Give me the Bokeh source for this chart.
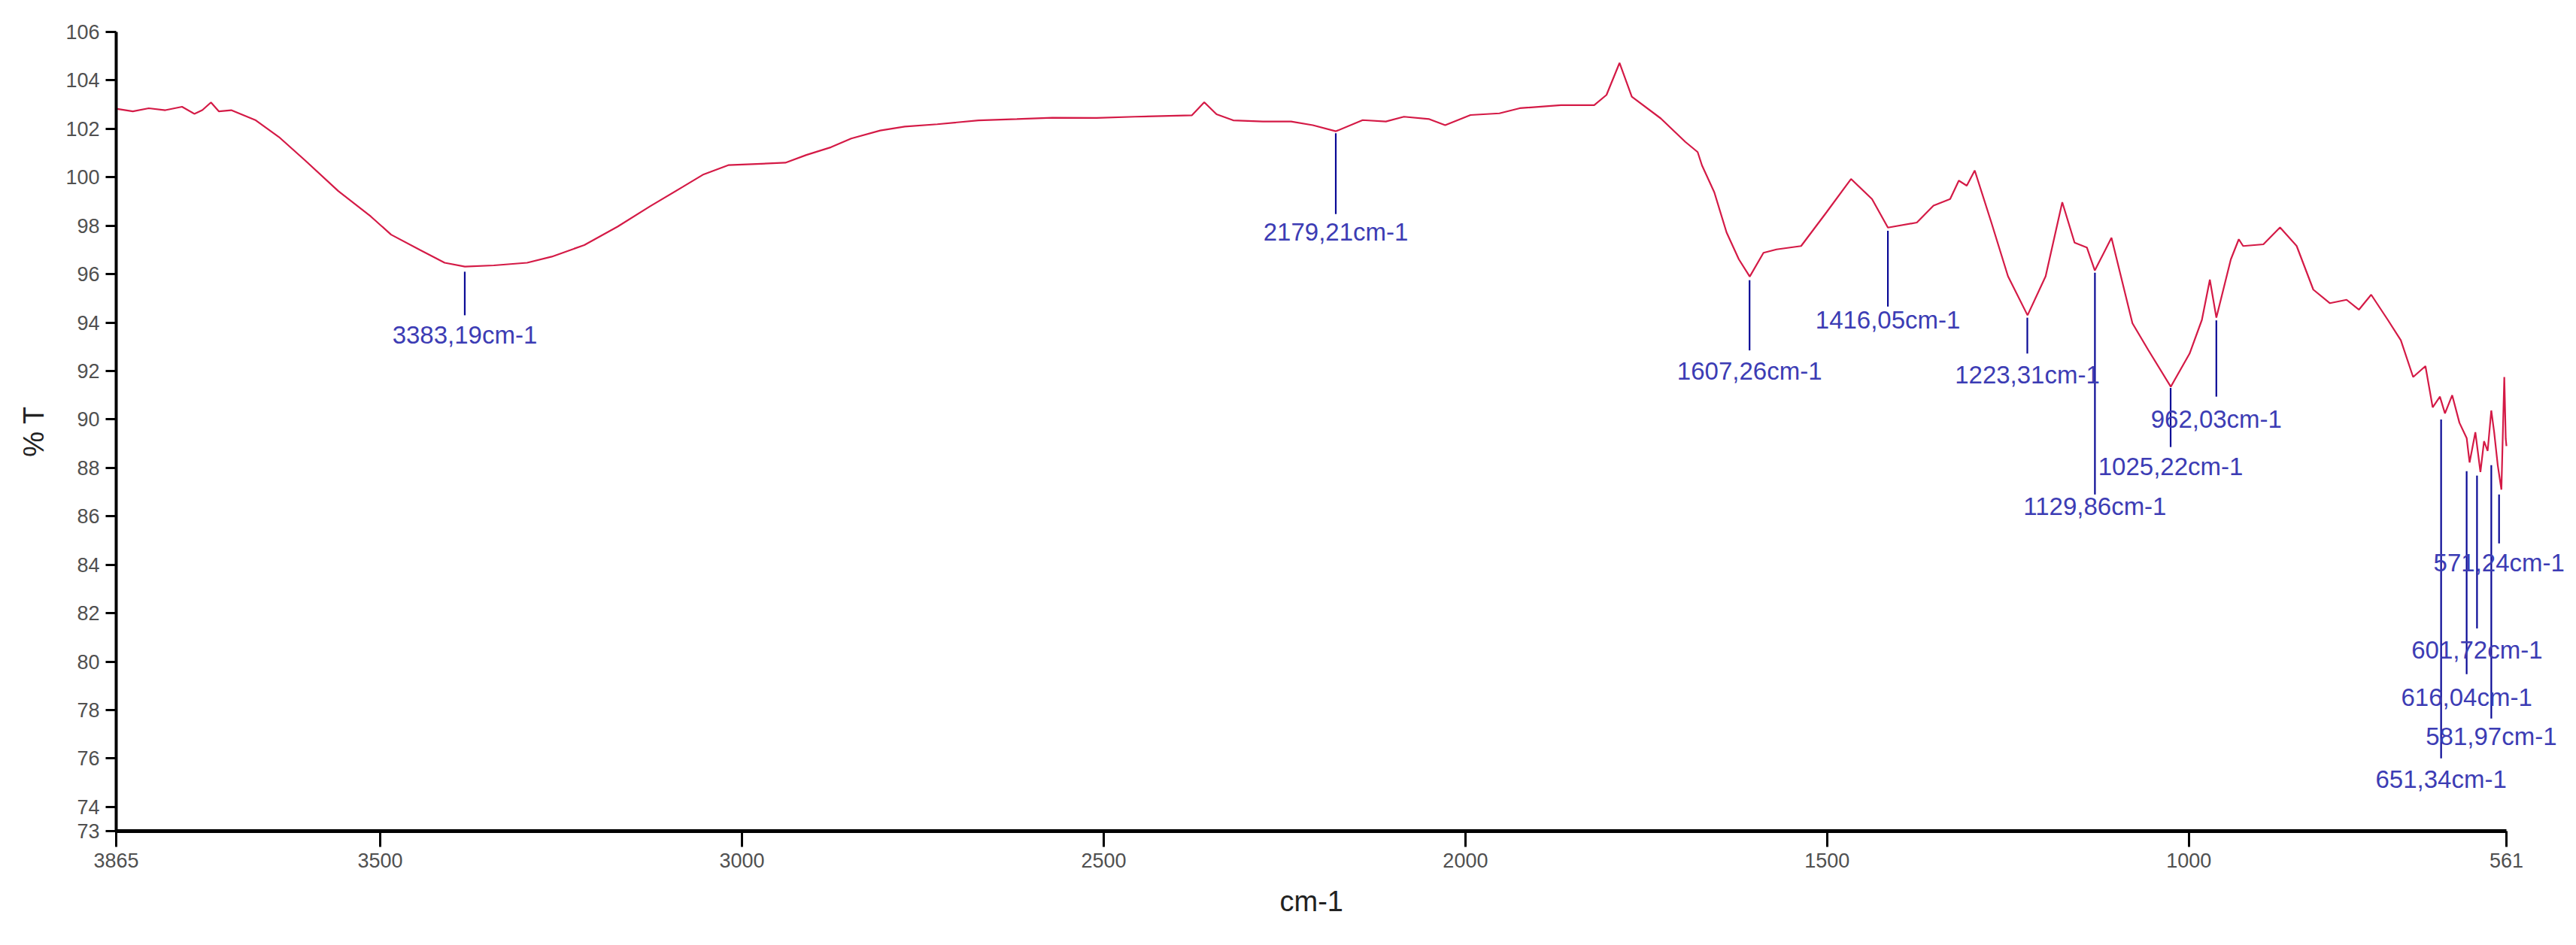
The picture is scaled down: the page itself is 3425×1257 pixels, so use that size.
from bokeh.plotting import figure
from bokeh.models import Range1d, FixedTicker, ColumnDataSource, Title
from bokeh.core.properties import value
from bokeh.embed import file_html
from bokeh.resources import INLINE

# Spectrum (wavenumber cm-1, %T)
wavenumber = [3865, 3842, 3820, 3797, 3774, 3757, 3746, 3734, 3723, 3706, 3689, 3672,
              3640, 3604, 3558, 3513, 3485, 3445, 3411, 3383, 3343, 3297, 3263, 3218,
              3172, 3127, 3082, 3053, 3019, 2980, 2940, 2911, 2877, 2849, 2809, 2775,
              2730, 2673, 2620, 2571, 2510, 2457, 2378, 2361, 2344, 2321, 2280, 2241,
              2211, 2179, 2142, 2110, 2085, 2050, 2028, 1993, 1953, 1925, 1868, 1822,
              1805, 1787, 1770, 1730, 1696, 1679, 1673, 1656, 1639, 1622, 1607, 1588,
              1570, 1536, 1501, 1467, 1438, 1416, 1376, 1353, 1330, 1318, 1307, 1296,
              1273, 1250, 1223, 1198, 1175, 1158, 1141, 1130, 1107, 1078, 1056, 1025,
              999, 982, 971, 962, 942, 931, 925, 897, 874, 851, 828, 805,
              782, 765, 748, 725, 707, 690, 673, 663, 653, 646, 636, 626,
              616, 612, 604, 597, 592, 587, 582, 578, 573, 568, 564, 562, 561]
transmittance = [102.83, 102.72, 102.85, 102.77, 102.91, 102.62, 102.77, 103.09, 102.72, 102.77, 102.56, 102.35,
                 101.66, 100.7, 99.43, 98.38, 97.63, 97.0, 96.47, 96.31, 96.36, 96.47, 96.72, 97.2,
                 97.96, 98.8, 99.6, 100.12, 100.5, 100.55, 100.6, 100.92, 101.24, 101.6, 101.93, 102.09,
                 102.19, 102.35, 102.4, 102.46, 102.45, 102.5, 102.56, 103.1, 102.6, 102.35, 102.3, 102.3,
                 102.15, 101.9, 102.36, 102.3, 102.5, 102.4, 102.15, 102.57, 102.64, 102.85, 102.98, 102.98,
                 103.4, 104.72, 103.33, 102.43, 101.46, 101.04, 100.49, 99.38, 97.72, 96.61, 95.9, 96.88,
                 97.02, 97.16, 98.55, 99.93, 99.1, 97.92, 98.13, 98.83, 99.1, 99.86, 99.65, 100.28,
                 98.13, 95.91, 94.3, 95.91, 98.97, 97.3, 97.1, 96.15, 97.5, 93.97, 92.86, 91.35,
                 92.72, 94.11, 95.77, 94.2, 96.61, 97.44, 97.16, 97.23, 97.93, 97.16, 95.36, 94.8,
                 94.94, 94.53, 95.15, 94.11, 93.27, 91.75, 92.2, 90.5, 90.94, 90.25, 91.0, 89.86,
                 89.23, 88.22, 89.47, 87.83, 89.1, 88.7, 90.37, 89.47, 88.1, 87.1, 91.75, 89.2, 88.9]

# Peak annotations
peak_wn = [3383.19, 2179.21, 1607.26, 1416.05, 1223.31, 1129.86, 1025.22, 962.03,
           651.34, 616.04, 601.72, 581.97, 571.24]
line_top = [96.1, 101.82, 95.75, 97.79, 94.2, 96.06, 91.3, 94.09, 90.0, 87.86, 87.68, 88.11, 86.9]
line_bottom = [94.3, 98.48, 92.85, 94.66, 92.72, 86.9, 88.86, 90.94, 76.0, 79.48, 81.37, 77.65, 84.88]
label_y = [93.5, 97.75, 92.0, 94.1, 91.85, 86.4, 88.05, 90.0, 75.13, 78.53, 80.48, 76.9, 84.07]
peak_labels = [("%.2f" % w).replace(".", ",") + "cm-1" for w in peak_wn]

x_ticks = [3865, 3500, 3000, 2500, 2000, 1500, 1000, 561]
y_ticks = [73] + list(range(74, 107, 2))
x_start, x_end = 3865, 561

# the frame runs a little past 561 so the right-hand labels are not clipped;
# the axis itself is bounded to 3865..561
p = figure(width=3409, height=1240, output_backend="svg", toolbar_location=None,
           x_range=Range1d(x_start, 481), y_range=Range1d(73, 106),
           min_border_left=154, min_border_right=0, min_border_top=42, min_border_bottom=135)
p.outline_line_color = None
p.xgrid.visible = False
p.ygrid.visible = False
p.background_fill_color = "white"
p.border_fill_color = "white"

p.line(wavenumber, transmittance, line_color="#d41a46", line_width=2.2)

ann = ColumnDataSource(dict(x=peak_wn, y0=line_top, y1=line_bottom, ly=label_y, t=peak_labels))
p.segment(x0="x", y0="y0", x1="x", y1="y1", source=ann, line_color="#0a0a96", line_width=2.2)
p.text(x="x", y="ly", text="t", source=ann, text_align="center", text_baseline="middle",
       text_font=value("Liberation Sans"), text_font_size="33px", text_color="#3c3cb4")

for ax in (p.xaxis[0], p.yaxis[0]):
    ax.major_label_text_font = "Liberation Sans"
    ax.major_label_text_font_size = "27px"
    ax.major_label_text_color = "#505050"
    ax.axis_line_color = "black"
    ax.major_tick_line_color = "black"
    ax.major_tick_line_width = 3
    ax.major_tick_in = 0
    ax.minor_tick_line_color = None
    ax.axis_label_text_font = "Liberation Sans"
    ax.axis_label_text_font_style = "normal"
    ax.axis_label_text_font_size = "38px"
    ax.axis_label_text_color = "#222222"

p.xaxis.ticker = FixedTicker(ticks=x_ticks)
p.xaxis.bounds = (x_end, x_start)
p.xaxis.axis_line_width = 5
p.xaxis.major_tick_out = 21
p.xaxis.major_label_standoff = 8

# x-axis title, centred under the bounded axis rather than the wider frame
p.add_layout(Title(text="cm-1", align="left", offset=1547, standoff=38,
                   text_font="Liberation Sans", text_font_style="normal",
                   text_font_size="38px", text_color="#222222"), "below")

p.yaxis.ticker = FixedTicker(ticks=y_ticks)
p.yaxis.axis_line_width = 4
p.yaxis.major_tick_out = 14
p.yaxis.major_label_standoff = 8
p.yaxis.axis_label = "% T"
p.yaxis.axis_label_standoff = 18

open("out.html", "w").write(file_html(p, INLINE))
